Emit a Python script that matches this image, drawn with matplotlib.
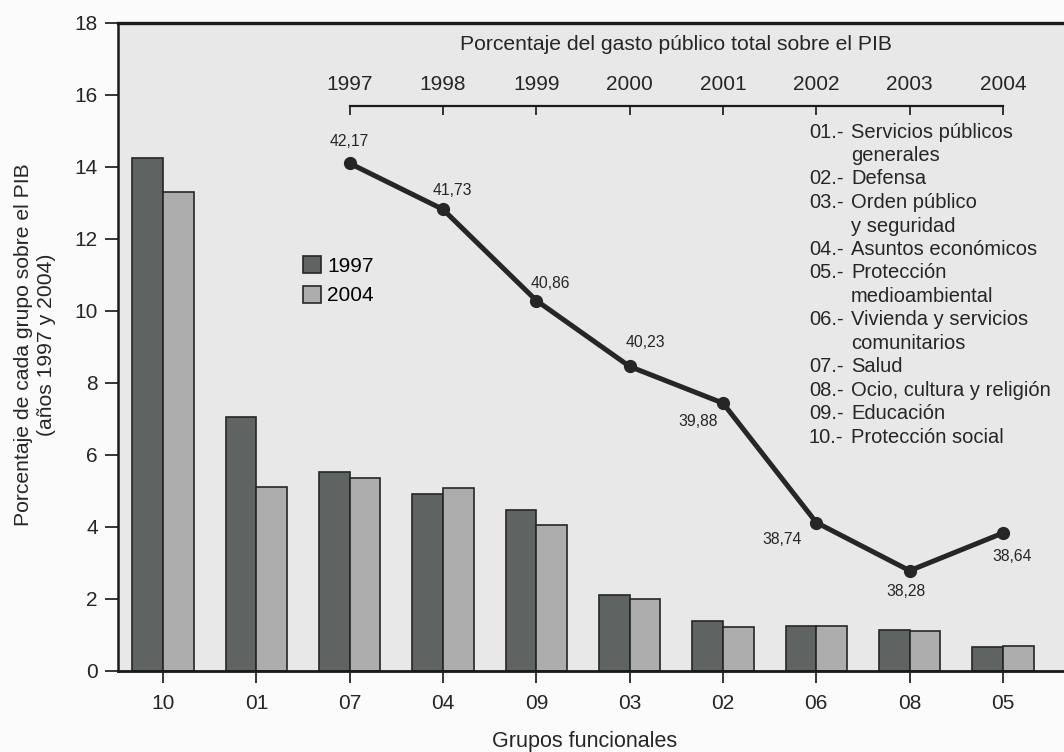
import matplotlib
matplotlib.use('Agg')
import matplotlib.pyplot as plt
from matplotlib.transforms import blended_transform_factory

plt.rcParams['font.family'] = ['Liberation Sans', 'DejaVu Sans']

# data
group_codes = ['10', '01', '07', '04', '09', '03', '02', '06', '08', '05']
pct_1997 = [14.25, 7.05, 5.53, 4.93, 4.47, 2.11, 1.40, 1.26, 1.14, 0.68]
pct_2004 = [13.30, 5.12, 5.36, 5.09, 4.05, 1.99, 1.23, 1.26, 1.12, 0.70]
series_names = ['1997', '2004']

years = [1997, 1998, 1999, 2000, 2001, 2002, 2003, 2004]
gasto_total = [42.17, 41.73, 40.86, 40.23, 39.88, 38.74, 38.28, 38.64]

list_codes = ['01', '02', '03', '04', '05', '06', '07', '08', '09', '10']
list_names = ['Servicios públicos\ngenerales', 'Defensa', 'Orden público\ny seguridad',
              'Asuntos económicos', 'Protección\nmedioambiental',
              'Vivienda y servicios\ncomunitarios', 'Salud', 'Ocio, cultura y religión',
              'Educación', 'Protección social']

W, H = 1064, 752
DARK = '#5f6361'
LIGHT = '#acadac'
INK = '#262626'


def fx(px):
    return px / W


def fy(py):
    return 1 - py / H


fig = plt.figure(figsize=(W / 100, H / 100), dpi=100, facecolor='#fbfbfb')
rect = [fx(118), fy(671), fx(1064 - 118), (671 - 23) / H]
ax = fig.add_axes(rect, facecolor='#e8e8e8')

# category centre spacing ~93.3 px, first centre at x=163
xl = ((118 - 163) / 93.33, (1064 - 163) / 93.33)
pos = list(range(len(group_codes)))
bw = 0.33
b1 = ax.bar([p - bw for p in pos], pct_1997, width=bw, align='edge', color=DARK,
            edgecolor=INK, linewidth=1.2, label=series_names[0])
b2 = ax.bar(pos, pct_2004, width=bw, align='edge', color=LIGHT,
            edgecolor=INK, linewidth=1.2, label=series_names[1])
ax.set_xlim(xl)
ax.set_ylim(0, 18)
ax.set_yticks(range(0, 19, 2))
ax.set_xticks(pos)
ax.set_xticklabels(group_codes)
ax.tick_params(axis='y', direction='out', length=9.5, width=1.3, pad=5,
               labelsize=15, colors=INK)
ax.tick_params(axis='x', direction='out', length=8.5, width=1.3, pad=8,
               labelsize=15, colors=INK)
for s in ['top', 'left', 'bottom']:
    ax.spines[s].set_color('#1a1a1a')
ax.spines['top'].set_linewidth(2.4)
ax.spines['left'].set_linewidth(1.8)
ax.spines['bottom'].set_linewidth(2.0)
ax.spines['right'].set_visible(False)

fig.text(fx(585), fy(741), 'Grupos funcionales', ha='center', va='center',
         fontsize=15.5, color=INK)
fig.text(fx(35), fy(345), 'Porcentaje de cada grupo sobre el PIB\n(años 1997 y 2004)',
         rotation=90, ha='center', va='center', multialignment='center',
         fontsize=15.2, color=INK, linespacing=1.25)

ax.legend(handles=[b1, b2], loc='upper left', bbox_to_anchor=(fx(303), fy(256)),
          bbox_transform=fig.transFigure, frameon=False, fontsize=15,
          handlelength=0.85, handleheight=0.85, handletextpad=0.3,
          labelspacing=0.5, borderpad=0, borderaxespad=0)

# line of total public spending, on its own year axis
axl = fig.add_axes(rect, facecolor='none')
axl.set_xlim(xl[0] + 1995, xl[1] + 1995)
axl.set_ylim(37.322, 43.51)
axl.plot(years, gasto_total, color='#262626', linewidth=3.6, marker='o',
         markersize=8.5, solid_capstyle='round')
offsets = [(0, 22), (9, 19), (14, 17), (16, 24), (-25, -18), (-34, -17), (-4, -21), (9, -24)]
for yr, v, off in zip(years, gasto_total, offsets):
    axl.annotate(f'{v:.2f}'.replace('.', ','), (yr, v), xytext=off,
                 textcoords='offset pixels', ha='center', va='center',
                 fontsize=11.3, color=INK)

axl.yaxis.set_visible(False)
for s in ['left', 'right', 'bottom']:
    axl.spines[s].set_visible(False)
axl.spines['top'].set_position(('axes', (671 - 106) / 648))
axl.spines['top'].set_bounds(years[0], years[-1])
axl.spines['top'].set_linewidth(1.6)
axl.spines['top'].set_color('#1a1a1a')
axl.xaxis.set_ticks_position('top')
axl.xaxis.set_label_position('top')
axl.set_xticks(years)
axl.tick_params(axis='x', direction='in', length=6.5, width=1.3, pad=9,
                labelsize=15, colors=INK, bottom=False, labelbottom=False)
tr = blended_transform_factory(axl.transData, axl.transAxes)
axl.text((years[0] + years[-1]) / 2, (671 - 45) / 648,
         'Porcentaje del gasto público total sobre el PIB',
         transform=tr, ha='center', va='center', fontsize=15.2, color=INK)

# key to the functional groups
y = 132
step = 23.5
for code, name in zip(list_codes, list_names):
    fig.text(fx(809), fy(y), code + '.-', ha='left', va='center', fontsize=14.5, color=INK)
    for line in name.split('\n'):
        fig.text(fx(851), fy(y), line, ha='left', va='center', fontsize=14.5, color=INK)
        y += step

fig.savefig('out.png', dpi=100, facecolor=fig.get_facecolor())
